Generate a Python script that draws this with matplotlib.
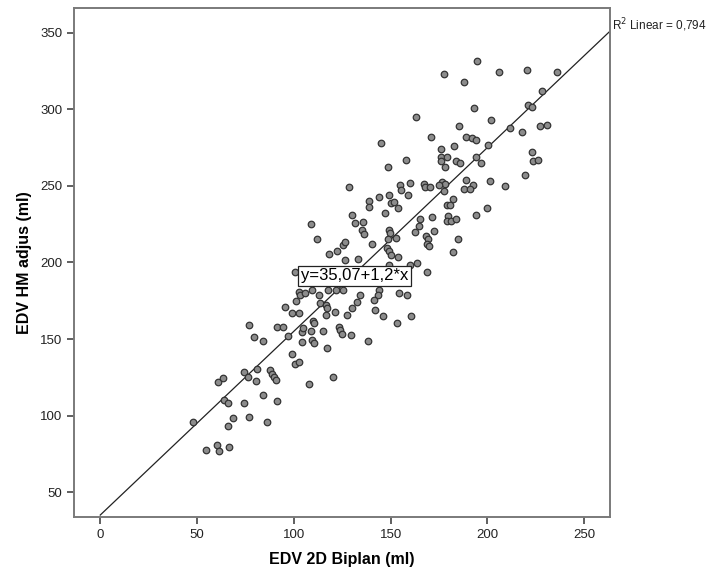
import matplotlib
matplotlib.use("Agg")
import matplotlib.pyplot as plt
import numpy as np

# points (EDV 2D Biplan, EDV HM adjus)
biplan = [
    # upper right group
    162.9, 145, 170.8, 157.9, 194.4, 177.5, 206, 220.4, 235.7, 187.9, 228.3, 220.8,
    222.8, 192.9, 202, 185.4, 211.8, 227.3, 230.9, 217.8, 188.9, 192, 193.9, 182.5,
    176, 200.3, 222.8, 193.9, 176, 178.9, 176, 183.7, 186, 196.8, 178, 223.3, 225.9,
    219.5, 189, 201.3,
    176.5, 177.9, 175.1, 192.3, 188, 191, 208.9, 177.4, 182, 179.1, 180.8, 199.9,
    193.9, 179.8, 179.2, 181.2, 183.9, 184.9, 182,
    # middle band
    148.8, 128.5, 154.8, 155.5, 160.0, 159.1, 167.4, 167.7, 170.3,
    139.0, 138.6, 144.0, 149.1, 150.2, 151.5, 147.1, 154.0, 129.8, 131.6, 135.5,
    135.2, 136.2, 108.7, 112.0, 140.5, 149.3, 149.6, 148.8, 152.7, 148.3, 149.3,
    150.0, 153.6, 165.1, 171.2, 164.6, 162.4, 168.1, 169.4, 168.6, 170.0, 172.5,
    118.1, 122.4, 125.5, 126.4, 126.6, 133.0, 149.1, 160.0, 163.4, 168.6, 100.6,
    102.8, 103.2, 105.7, 109.2, 113.0, 117.8, 121.8, 125.5, 144.0, 143.3, 141.4,
    154.3, 158.6, 134.1, 95.6, 101.1, 98.9, 102.8, 113.5, 116.4, 117.1, 116.6,
    121.1, 127.3, 130.0, 132.4, 141.9, 146.2, 153.1, 160.5,
    76.6, 91.1, 94.5, 79.4, 83.9, 96.8, 104.0, 104.9, 109.7, 110.4, 108.8, 114.9,
    123.1, 124.0, 124.7, 129.5, 104.4, 109.5, 110.6, 117.0, 138.5,
    98.9, 100.6, 102.6, 74.2, 76.1, 80.8, 80.4, 87.7, 88.9, 89.9, 90.6, 61.0, 63.6,
    107.8, 120.4,
    # lower left
    83.9, 91.4, 86.3, 63.7, 66.2, 74.4, 47.7, 68.7, 76.7, 66, 54.6, 60.4, 61.2, 66.5,
]
hm_adjus = [
    294.8, 278, 282, 267, 331.5, 322.8, 324.6, 325.6, 324.6, 317.7, 311.8, 302.8,
    301.7, 300.8, 293, 288.9, 287.8, 288.9, 289.8, 285, 282, 281.2, 280, 276.2,
    274.2, 276.8, 272.1, 269, 268.6, 269.2, 266.5, 266, 265.2, 265, 262.4, 266, 267.1,
    257.2, 254, 253,
    252.7, 251.4, 250.3, 250.9, 248.1, 248.1, 250, 247, 241.2, 237.3, 237.3, 235.4,
    231.3, 230.4, 227.1, 227.1, 228.2, 215.4, 206.6,
    262.1, 249.4, 250.5, 247.5, 252.2, 244.2, 251.1, 249.4, 249.0,
    240.3, 236.4, 242.5, 244.2, 238.8, 239.7, 232.3, 235.6, 231.2, 225.6, 226.3,
    220.9, 218.7, 225.4, 215.5, 211.8, 221.3, 219.4, 215.1, 215.9, 209.4, 207.3,
    204.7, 203.6, 228.4, 229.5, 223.7, 219.8, 217.6, 215.5, 211.8, 210.7, 220.4,
    205.8, 207.3, 211.2, 213.3, 201.4, 202.5, 198.6, 198.2, 199.7, 193.9, 193.9,
    180.9, 178.8, 179.8, 182.0, 178.8, 182.0, 182.2, 182.0, 182.0, 178.8, 175.5,
    179.8, 178.8, 178.8, 170.8, 174.9, 166.9, 166.9, 173.3, 172.3, 170.1, 165.8,
    167.9, 165.8, 170.1, 174.4, 169.0, 165.1, 160.8, 165.1,
    158.9, 157.8, 157.8, 151.1, 148.9, 152.2, 154.6, 157.2, 161.5, 160.4, 155.0, 155.0,
    158.2, 156.1, 153.5, 152.8, 147.9, 149.2, 147.4, 144.2, 148.9,
    140.3, 133.4, 135.1, 128.4, 125.2, 130.2, 122.6, 129.5, 126.9, 125.2, 123.0, 122.2, 124.3,
    120.4, 125.2,
    113.3, 109.4, 95.6, 110.5, 108.0, 108.3, 95.6, 98.4, 99.4, 93.4, 77.7, 80.7, 76.6, 79.6,
]

intercept = 35.07
slope = 1.2
r2_text = "R$^2$ Linear = 0,794"
eq_text = "y=35,07+1,2*x"

plt.rcParams['font.family'] = ['Liberation Sans', 'DejaVu Sans']

fig = plt.figure(figsize=(7.27, 5.76), dpi=100)
ax = fig.add_axes([0.1022, 0.1019, 0.7368, 0.8837])

ax.scatter(biplan, hm_adjus, s=22, facecolor='#8c8c8c', edgecolor='#333333',
           linewidth=0.9, zorder=3)

xlim = (-13.4, 263.3)
ylim = (33.6, 366)
lx = np.array([0, xlim[1]])
ax.plot(lx, intercept + slope * lx, color='#222222', linewidth=0.9, zorder=2)

ax.set_xlim(xlim)
ax.set_ylim(ylim)
ax.set_xticks([0, 50, 100, 150, 200, 250])
ax.set_yticks([50, 100, 150, 200, 250, 300, 350])

for sp in ax.spines.values():
    sp.set_color('#7a7a7a')
    sp.set_linewidth(1.4)
ax.tick_params(direction='out', length=5, width=1.2, color='#444444',
               labelsize=9.5, labelcolor='#222222')

ax.set_xlabel("EDV 2D Biplan (ml)", fontsize=11.5, fontweight='bold', labelpad=8)
ax.set_ylabel("EDV HM adjus (ml)", fontsize=11.5, fontweight='bold', labelpad=6)

ax.text(131.3, 191.2, eq_text, fontsize=12, ha='center', va='center', zorder=4,
        bbox=dict(boxstyle='square,pad=0.15', facecolor='white', edgecolor='#222222',
                  linewidth=0.9))
ax.text(1.004, 0.985, r2_text, transform=ax.transAxes, fontsize=8.5,
        ha='left', va='top', color='#222222')

fig.savefig("out.png", dpi=100)
